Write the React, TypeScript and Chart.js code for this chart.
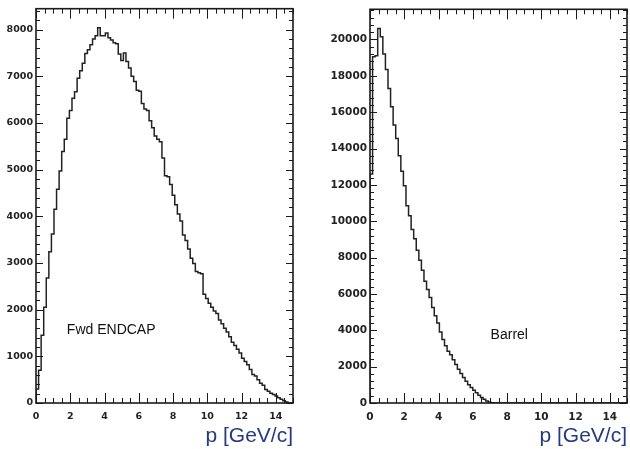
import React, { useEffect, useRef } from 'react';
import { Chart, registerables } from 'chart.js';

Chart.register(...registerables);

// ---------- data ----------
const BIN_WIDTH = 0.15; // GeV/c per bin (100 bins over 0..15)
const X_MIN = 0;
const X_MAX = 15;
const xTickValues = [0, 2, 4, 6, 8, 10, 12, 14];

const endcapYTicks = [0, 1000, 2000, 3000, 4000, 5000, 6000, 7000, 8000];
const barrelYTicks = [0, 2000, 4000, 6000, 8000, 10000, 12000, 14000, 16000, 18000, 20000];

const endcapCounts = [
  300, 700, 1450, 2050, 2680, 3240, 3620, 4150, 4580, 4970,
  5390, 5650, 6100, 6270, 6530, 6670, 6960, 7120, 7280, 7490,
  7570, 7680, 7800, 7870, 8040, 7870, 7870, 7930, 7830, 7780,
  7720, 7700, 7480, 7340, 7500, 7320, 7180, 7000, 6890, 6700,
  6680, 6420, 6300, 6270, 6050, 5900, 5720, 5650, 5600, 5250,
  4870, 4850, 4680, 4450, 4250, 4050, 3900, 3600, 3480, 3300,
  3100, 2990, 2820, 2790, 2770, 2330, 2240, 2140, 2050, 1970,
  1920, 1780, 1700, 1600, 1520, 1420, 1300, 1230, 1150, 1070,
  960, 890, 820, 720, 610, 580, 500, 425, 380, 290,
  250, 210, 180, 150, 110, 80, 50, 20, 0, 0,
];

const barrelCounts = [
  12600, 19050, 19100, 20600, 20150, 19200, 18350, 17300, 16300, 15300,
  14550, 13600, 12750, 11950, 10850, 10300, 9550, 9030, 8400, 7850,
  7300, 6700, 6250, 5800, 5250, 4800, 4400, 3900, 3500, 3150,
  2850, 2650, 2380, 2120, 1850, 1620, 1400, 1200, 1000, 850,
  700, 560, 420, 300, 200, 110, 50, 10, 0, 0,
  0, 0, 0, 0, 0, 0, 0, 0, 0, 0,
  0, 0, 0, 0, 0, 0, 0, 0, 0, 0,
  0, 0, 0, 0, 0, 0, 0, 0, 0, 0,
  0, 0, 0, 0, 0, 0, 0, 0, 0, 0,
  0, 0, 0, 0, 0, 0, 0, 0, 0, 0,
];

const X_TITLE = 'p [GeV/c]';

// ---------- styling ----------
const LINE_COLOR = '#222222';
const FRAME_COLOR = '#1a1a1a';
const TICK_LABEL_COLOR = '#222222';
const TITLE_COLOR = '#263a80';

interface PanelSpec {
  counts: number[];
  yMax: number;
  yTicks: number[];
  yMinor: number;
  yMajor: number;
  yAxisWidth: number;
  padRight: number;
  fontSize: number;
  label: string;
  labelX: number;
  labelY: number;
}

function buildPoints(counts: number[]) {
  const pts: { x: number; y: number }[] = [{ x: X_MIN, y: 0 }];
  counts.forEach((c, i) => pts.push({ x: X_MIN + i * BIN_WIDTH, y: c }));
  pts.push({ x: X_MAX, y: 0 });
  return pts;
}

function framePlugin(spec: PanelSpec) {
  return {
    id: 'rootFrame',
    afterDatasetsDraw(chart: any) {
      const { ctx, chartArea } = chart;
      const { left, right, top, bottom } = chartArea;
      const xs = chart.scales.x;
      const ys = chart.scales.y;
      ctx.save();
      ctx.strokeStyle = FRAME_COLOR;
      ctx.lineWidth = 1;
      ctx.beginPath();
      const xMinor = 0.5;
      const xMajorEvery = 4;
      const nx = Math.round((X_MAX - X_MIN) / xMinor);
      for (let k = 0; k <= nx; k++) {
        const v = X_MIN + k * xMinor;
        const px = Math.round(xs.getPixelForValue(v)) + 0.5;
        const len = k % xMajorEvery === 0 ? 10 : 5;
        ctx.moveTo(px, bottom);
        ctx.lineTo(px, bottom - len);
        ctx.moveTo(px, top);
        ctx.lineTo(px, top + len);
      }
      const yMajorEvery = Math.round(spec.yMajor / spec.yMinor);
      for (let k = 0; k * spec.yMinor <= spec.yMax; k++) {
        const v = k * spec.yMinor;
        const py = Math.round(ys.getPixelForValue(v)) + 0.5;
        const len = k % yMajorEvery === 0 ? 7 : 4;
        ctx.moveTo(left, py);
        ctx.lineTo(left + len, py);
        ctx.moveTo(right, py);
        ctx.lineTo(right - len, py);
      }
      ctx.stroke();
      ctx.lineWidth = 1.6;
      ctx.strokeRect(left, top, right - left, bottom - top);
      // annotation
      ctx.fillStyle = '#111111';
      ctx.font = '14px "Liberation Sans", Arial, sans-serif';
      ctx.textAlign = 'left';
      ctx.textBaseline = 'middle';
      ctx.fillText(spec.label, xs.getPixelForValue(spec.labelX), ys.getPixelForValue(spec.labelY));
      ctx.restore();
    },
  };
}

function makeChart(canvas: HTMLCanvasElement, spec: PanelSpec) {
  const tickFont = { family: '"DejaVu Sans", sans-serif', size: spec.fontSize, weight: 'bold' as const };
  return new Chart(canvas, {
    type: 'line',
    data: {
      datasets: [
        {
          data: buildPoints(spec.counts),
          stepped: 'before',
          borderColor: LINE_COLOR,
          borderWidth: 1.5,
          pointRadius: 0,
          fill: false,
          tension: 0,
        },
      ],
    },
    options: {
      animation: false,
      responsive: false,
      devicePixelRatio: 1,
      layout: { padding: { left: 0, right: spec.padRight, top: 7, bottom: 0 } },
      plugins: { legend: { display: false }, tooltip: { enabled: false } },
      scales: {
        x: {
          type: 'linear',
          min: X_MIN,
          max: X_MAX,
          afterBuildTicks: (s: any) => {
            s.ticks = xTickValues.map((v) => ({ value: v }));
          },
          afterFit: (s: any) => {
            s.height = 46;
          },
          ticks: {
            autoSkip: false,
            maxRotation: 0,
            padding: 8,
            color: TICK_LABEL_COLOR,
            font: tickFont,
            callback: (v: any) => String(v),
          },
          grid: { display: false, drawTicks: false },
          border: { display: false },
          title: {
            display: true,
            text: X_TITLE,
            align: 'end',
            color: TITLE_COLOR,
            font: { family: '"Liberation Sans", Arial, sans-serif', size: 21 },
            padding: { top: 0, bottom: 0 },
          },
        },
        y: {
          type: 'linear',
          min: 0,
          max: spec.yMax,
          afterBuildTicks: (s: any) => {
            s.ticks = spec.yTicks.map((v) => ({ value: v }));
          },
          afterFit: (s: any) => {
            s.width = spec.yAxisWidth;
          },
          ticks: {
            autoSkip: false,
            padding: 3,
            color: TICK_LABEL_COLOR,
            font: tickFont,
            callback: (v: any) => String(v),
          },
          grid: { display: false, drawTicks: false },
          border: { display: false },
        },
      },
    },
    plugins: [framePlugin(spec)],
  } as any);
}

const endcapSpec: PanelSpec = {
  counts: endcapCounts,
  yMax: 8450,
  yTicks: endcapYTicks,
  yMinor: 200,
  yMajor: 1000,
  yAxisWidth: 36,
  padRight: 22,
  fontSize: 9.5,
  label: 'Fwd ENDCAP',
  labelX: 1.8,
  labelY: 1565,
};

const barrelSpec: PanelSpec = {
  counts: barrelCounts,
  yMax: 21660,
  yTicks: barrelYTicks,
  yMinor: 400,
  yMajor: 2000,
  yAxisWidth: 55,
  padRight: 3,
  fontSize: 10.5,
  label: 'Barrel',
  labelX: 7.04,
  labelY: 3740,
};

export default function App() {
  const leftRef = useRef<HTMLCanvasElement>(null);
  const rightRef = useRef<HTMLCanvasElement>(null);

  useEffect(() => {
    const c1 = makeChart(leftRef.current!, endcapSpec);
    const c2 = makeChart(rightRef.current!, barrelSpec);
    return () => {
      c1.destroy();
      c2.destroy();
    };
  }, []);

  return (
    <div style={{ position: 'absolute', left: 0, top: 0, width: 630, height: 449, background: '#ffffff' }}>
      <canvas ref={leftRef} width={315} height={449} style={{ position: 'absolute', left: 0, top: 0 }} />
      <canvas ref={rightRef} width={315} height={449} style={{ position: 'absolute', left: 315, top: 0 }} />
    </div>
  );
}
